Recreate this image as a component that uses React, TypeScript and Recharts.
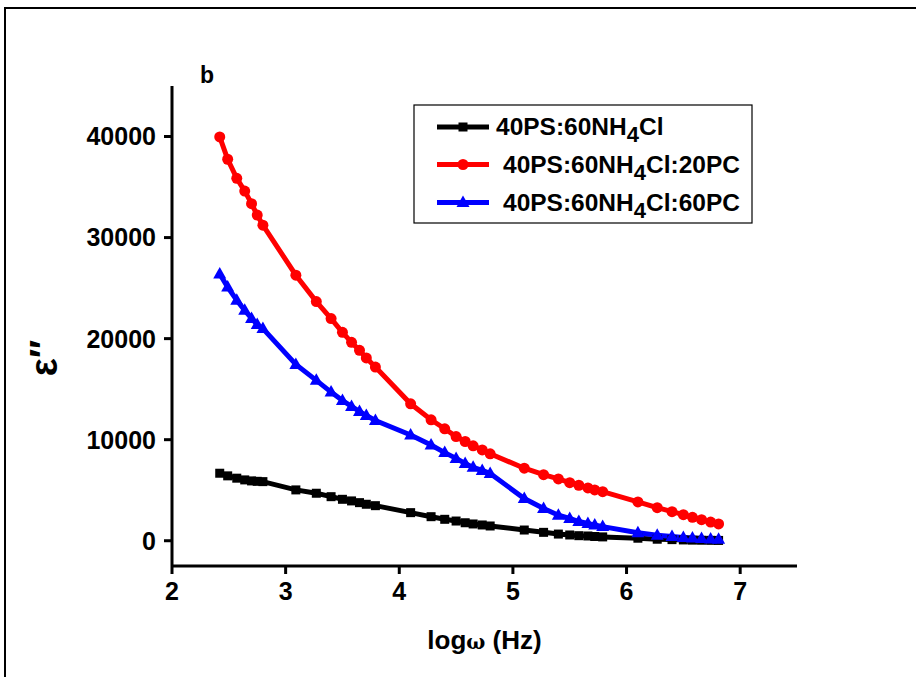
import React from 'react';
import { LineChart, Line, XAxis, YAxis, Customized } from 'recharts';

const FONT = '"Liberation Sans", Arial, sans-serif';

const logFreq = [
  2.42, 2.49, 2.57, 2.64, 2.70, 2.75, 2.80,
  3.09, 3.27, 3.40, 3.50, 3.58, 3.65, 3.71, 3.79,
  4.10, 4.28, 4.40, 4.50, 4.58, 4.65, 4.73, 4.80,
  5.10, 5.27, 5.40, 5.50, 5.58, 5.66, 5.72, 5.79,
  6.10, 6.27, 6.40, 6.50, 6.58, 6.66, 6.74, 6.81,
];

const ps60 = [
  6680, 6420, 6190, 6020, 5920, 5880, 5850,
  5030, 4700, 4360, 4100, 3940, 3770, 3610, 3470,
  2780, 2380, 2120, 1950, 1780, 1660, 1560, 1460,
  1060, 830, 660, 570, 500, 470, 420, 380,
  250, 150, 110, 80, 60, 50, 40, 30,
];

const ps60pc20 = [
  39960, 37750, 35860, 34600, 33360, 32230, 31230,
  26280, 23670, 21980, 20620, 19630, 18840, 18090, 17190,
  13550, 11970, 11080, 10310, 9820, 9390, 8990, 8600,
  7180, 6540, 6120, 5750, 5490, 5230, 5030, 4860,
  3840, 3270, 2880, 2580, 2320, 2080, 1850, 1660,
];

const ps60pc60 = [
  26400, 25100, 23800, 22800, 22000, 21400, 21000,
  17450, 15870, 14710, 13880, 13290, 12790, 12390, 11900,
  10460, 9470, 8720, 8150, 7650, 7260, 6960, 6660,
  4180, 3190, 2530, 2200, 1900, 1700, 1550, 1400,
  800, 550, 420, 330, 270, 220, 180, 150,
];

const xTicks = [2, 3, 4, 5, 6, 7];
const yTicks = [0, 10000, 20000, 30000, 40000];

const seriesNames = ['40PS:60NH', '40PS:60NH', '40PS:60NH'];
const seriesSuffix = ['Cl', 'Cl:20PC', 'Cl:60PC'];
const seriesColors = ['#000000', '#ff0000', '#0000ff'];

const data = logFreq.map((x, i) => ({
  x,
  a: ps60[i],
  b: ps60pc20[i],
  c: ps60pc60[i],
}));

const Square = (p: any) => {
  const { cx, cy, index } = p;
  if (cx == null || cy == null) return <g key={`s${index}`} />;
  return <rect key={`s${index}`} x={cx - 4.5} y={cy - 4.5} width={9} height={9} fill="#000" />;
};
const Circle = (p: any) => {
  const { cx, cy, index } = p;
  if (cx == null || cy == null) return <g key={`c${index}`} />;
  return <circle key={`c${index}`} cx={cx} cy={cy} r={5.5} fill="#ff0000" />;
};
const Tri = (p: any) => {
  const { cx, cy, index } = p;
  if (cx == null || cy == null) return <g key={`t${index}`} />;
  return (
    <polygon
      key={`t${index}`}
      points={`${cx},${cy - 7} ${cx - 6.5},${cy + 4.5} ${cx + 6.5},${cy + 4.5}`}
      fill="#0000ff"
    />
  );
};

const LegendBox = () => {
  const bx = 414, by = 105, bw = 338, bh = 118;
  const rows = [127, 164.5, 202.5];
  const textX = [496, 503, 503];
  return (
    <g>
      <rect x={bx} y={by} width={bw} height={bh} fill="#fff" stroke="#000" strokeWidth={1.2} />
      {rows.map((y, i) => (
        <g key={i}>
          <line x1={437} x2={489} y1={y} y2={y} stroke={seriesColors[i]} strokeWidth={5} />
          {i === 0 && <rect x={458.5} y={y - 4.5} width={9} height={9} fill="#000" />}
          {i === 1 && <circle cx={463} cy={y} r={5.5} fill="#ff0000" />}
          {i === 2 && (
            <polygon points={`${463},${y - 7} ${456.5},${y + 4.5} ${469.5},${y + 4.5}`} fill="#0000ff" />
          )}
          <text
            x={textX[i]}
            y={y + 8}
            fontFamily={FONT}
            fontWeight="bold"
            fontSize={24.5}
            fill="#000"
          >
            {seriesNames[i]}
            <tspan fontSize={22} dy={7}>4</tspan>
            <tspan dy={-7}>{seriesSuffix[i]}</tspan>
          </text>
        </g>
      ))}
      <text x={207} y={83} textAnchor="middle" fontFamily={FONT} fontWeight="bold" fontSize={23} fill="#000">
        b
      </text>
    </g>
  );
};

const XLabel = (props: any) => {
  const vb = props.viewBox || {};
  const cx = (vb.x ?? 172) + (vb.width ?? 625) / 2;
  return (
    <text x={cx} y={649} textAnchor="middle" fontFamily={FONT} fontWeight="bold" fontSize={26} fill="#000">
      log<tspan fontSize={20} fontFamily='"DejaVu Serif", serif'>ω</tspan> (Hz)
    </text>
  );
};

const YLabel = () => (
  <text
    x={0}
    y={0}
    transform="translate(57,358) rotate(-90)"
    textAnchor="middle"
    fontFamily={FONT}
    fontWeight="bold"
    fontSize={38}
    fill="#000"
  >
    ε″
  </text>
);

const tickStyle = { fill: '#000', fontSize: 25, fontWeight: 'bold', fontFamily: FONT };

export default function App() {
  return (
    <div style={{ position: 'absolute', left: 0, top: 0, width: 916, height: 677, background: '#fff' }}>
      <div
        style={{
          position: 'absolute',
          left: 4,
          top: 7,
          width: 912,
          height: 670,
          borderTop: '2.5px solid #000',
          borderLeft: '2.5px solid #000',
          boxSizing: 'border-box',
        }}
      />
      <div style={{ position: 'absolute', left: 0, top: 0 }}>
        <LineChart width={916} height={677} data={data} margin={{ top: 86, right: 119, bottom: 51, left: 72 }}>
          <XAxis
            dataKey="x"
            type="number"
            domain={[2, 7.5]}
            ticks={xTicks}
            height={60}
            allowDataOverflow
            axisLine={{ stroke: '#000', strokeWidth: 3 }}
            tickLine={{ stroke: '#000', strokeWidth: 3 }}
            tickSize={8}
            tickMargin={8}
            tick={tickStyle}
            label={<XLabel />}
          />
          <XAxis
            xAxisId="top"
            orientation="top"
            dataKey="x"
            type="number"
            domain={[2, 7.5]}
            height={0}
            tick={false}
            tickLine={false}
            axisLine={{ stroke: '#000', strokeWidth: 3 }}
          />
          <YAxis
            type="number"
            domain={[-2500, 45000]}
            ticks={yTicks}
            width={100}
            allowDataOverflow
            axisLine={{ stroke: '#000', strokeWidth: 3 }}
            tickLine={{ stroke: '#000', strokeWidth: 3 }}
            tickSize={8}
            tickMargin={8}
            tick={tickStyle}
          />
          <YAxis
            yAxisId="right"
            orientation="right"
            type="number"
            domain={[-2500, 45000]}
            width={0}
            tick={false}
            tickLine={false}
            axisLine={{ stroke: '#000', strokeWidth: 3 }}
          />
          <Line dataKey="a" stroke="#000" strokeWidth={5} dot={Square} isAnimationActive={false} />
          <Line dataKey="b" stroke="#ff0000" strokeWidth={5} dot={Circle} isAnimationActive={false} />
          <Line dataKey="c" stroke="#0000ff" strokeWidth={5} dot={Tri} isAnimationActive={false} />
          <Customized component={<LegendBox />} />
          <Customized component={<YLabel />} />
        </LineChart>
      </div>
    </div>
  );
}
